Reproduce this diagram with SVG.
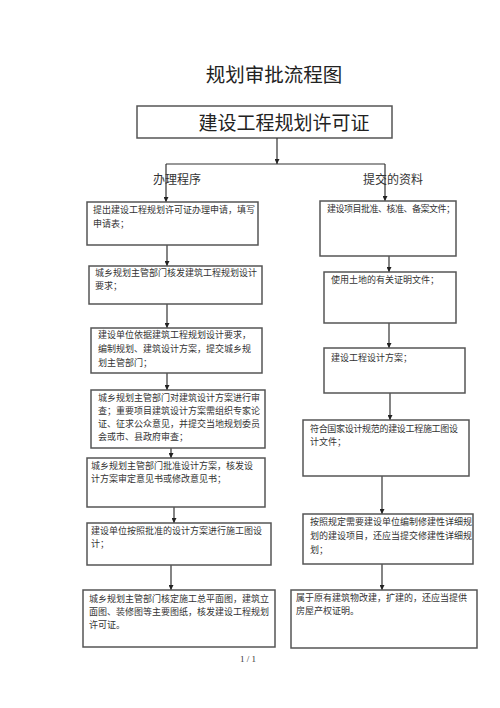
<svg xmlns="http://www.w3.org/2000/svg" width="500" height="708" viewBox="0 0 500 708">
<style>
.box{fill:#fff;stroke:#555;stroke-width:1.5}
.t{font-family:"Liberation Serif","Noto Sans CJK SC",serif;font-size:9px;fill:#333}
.h{font-family:"Noto Sans CJK SC",sans-serif;fill:#222}
.lab{font-family:"Liberation Serif","Noto Sans CJK SC",serif;font-size:12px;fill:#333}
.c{stroke:#333;stroke-width:1.2;fill:none}
.ca{stroke:#333;stroke-width:1.2;fill:none;marker-end:url(#ah)}
</style>
<defs>
<marker id="ah" viewBox="0 0 6 6" refX="6" refY="3" markerWidth="5" markerHeight="5" markerUnits="userSpaceOnUse" orient="auto">
<path d="M0,0 L6,3 L0,6 z" fill="#222"/>
</marker>
</defs>
<rect width="500" height="708" fill="#fff"/>
<text class="h" x="274" y="82" font-size="19.5" text-anchor="middle">规划审批流程图</text>
<g id="top">
<rect class="box" x="137" y="106" width="255" height="32"/>
<text class="h" x="284" y="130" font-size="19" text-anchor="middle">建设工程规划许可证</text>
</g>
<text class="lab" x="153" y="184">办理程序</text>
<text class="lab" x="363" y="184">提交的资料</text>
<g id="connectors">
<path class="ca" d="M277,138 V164"/>
<path class="c" d="M166,164 H385"/>
<path class="ca" d="M166,164 V202"/>
<path class="ca" d="M385,164 V201"/>
<path class="ca" d="M167,245 V266"/>
<path class="ca" d="M167,304 V328"/>
<path class="ca" d="M167,373 V390"/>
<path class="ca" d="M171,448 V458"/>
<path class="ca" d="M174,507 V523"/>
<path class="ca" d="M171,565 V590"/>
<path class="ca" d="M389,256 V272"/>
<path class="ca" d="M389,323 V348"/>
<path class="ca" d="M390,393 V420"/>
<path class="ca" d="M382,476 V514"/>
<path class="ca" d="M382,564 V590"/>
</g>
<g id="b1">
<rect class="box" x="87" y="202" width="171" height="43"/>
<text class="t" x="93" y="213">提出建设工程规划许可证办理申请，填写</text>
<text class="t" x="93" y="227">申请表；</text>
</g>
<g id="b2">
<rect class="box" x="89" y="266" width="173" height="38"/>
<text class="t" x="95" y="276">城乡规划主管部门核发建筑工程规划设计</text>
<text class="t" x="95" y="289">要求；</text>
</g>
<g id="b3">
<rect class="box" x="91" y="328" width="171" height="45"/>
<text class="t" x="98" y="338">建设单位依据建筑工程规划设计要求，</text>
<text class="t" x="98" y="352">编制规划、建筑设计方案，提交城乡规</text>
<text class="t" x="98" y="366">划主管部门；</text>
</g>
<g id="b4">
<rect class="box" x="91" y="390" width="174" height="58"/>
<text class="t" x="98" y="401">城乡规划主管部门对建筑设计方案进行审</text>
<text class="t" x="98" y="414">查；重要项目建筑设计方案需组织专家论</text>
<text class="t" x="98" y="427">证、征求公众意见，并提交当地规划委员</text>
<text class="t" x="98" y="440">会或市、县政府审查；</text>
</g>
<g id="b5">
<rect class="box" x="87" y="458" width="178" height="49"/>
<text class="t" x="91" y="469">城乡规划主管部门批准设计方案，核发设</text>
<text class="t" x="91" y="482">计方案审定意见书或修改意见书；</text>
</g>
<g id="b6">
<rect class="box" x="87" y="523" width="184" height="42"/>
<text class="t" x="91" y="534">建设单位按照批准的设计方案进行施工图设</text>
<text class="t" x="91" y="547">计；</text>
</g>
<g id="b7">
<rect class="box" x="83" y="590" width="192" height="57"/>
<text class="t" x="89" y="602">城乡规划主管部门核定施工总平面图，建筑立</text>
<text class="t" x="89" y="615">面图、装修图等主要图纸，核发建设工程规划</text>
<text class="t" x="89" y="628">许可证。</text>
</g>
<g id="r1">
<rect class="box" x="320" y="201" width="136" height="55"/>
<text class="t" x="327" y="212" textLength="128">建设项目批准、核准、备案文件；</text>
</g>
<g id="r2">
<rect class="box" x="324" y="272" width="132" height="51"/>
<text class="t" x="331" y="283">使用土地的有关证明文件；</text>
</g>
<g id="r3">
<rect class="box" x="324" y="348" width="141" height="45"/>
<text class="t" x="331" y="361">建设工程设计方案；</text>
</g>
<g id="r4">
<rect class="box" x="303" y="420" width="166" height="56"/>
<text class="t" x="310" y="432" textLength="148">符合国家设计规范的建设工程施工图设</text>
<text class="t" x="310" y="445">计文件；</text>
</g>
<g id="r5">
<rect class="box" x="303" y="514" width="170" height="50"/>
<text class="t" x="310" y="525">按照规定需要建设单位编制修建性详细规</text>
<text class="t" x="310" y="539">划的建设项目，还应当提交修建性详细规</text>
<text class="t" x="310" y="553">划；</text>
</g>
<g id="r6">
<rect class="box" x="291" y="590" width="186" height="58"/>
<text class="t" x="296" y="601">属于原有建筑物改建，扩建的，还应当提供</text>
<text class="t" x="296" y="614">房屋产权证明。</text>
</g>
<text class="t" x="240" y="662">1 / 1</text>
</svg>
